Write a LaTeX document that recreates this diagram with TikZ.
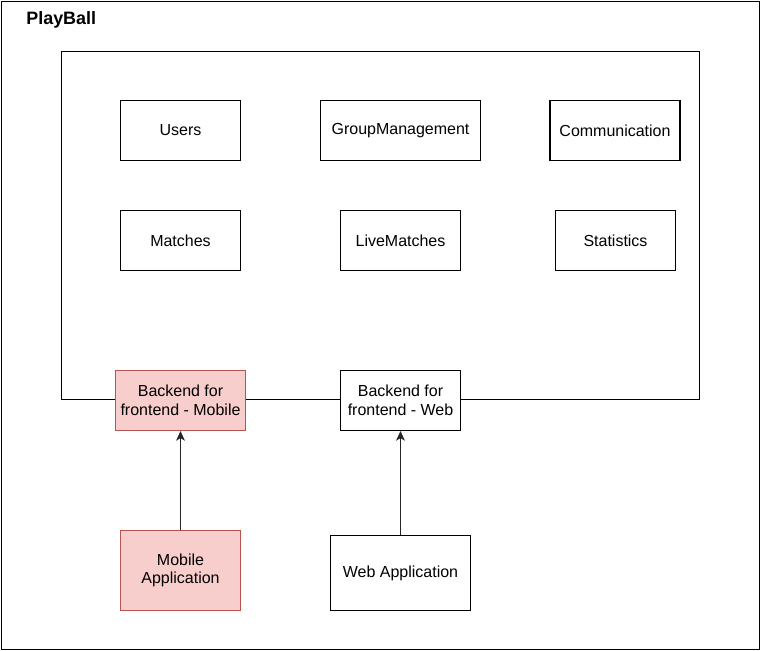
\documentclass[tikz,border=0pt]{standalone}
\usepackage{fontspec}
\setmainfont{Liberation Sans}
\usepackage{xcolor}
\usepackage{tikz}
\usetikzlibrary{
  positioning,
  arrows.meta
}
\definecolor{SoftRed}{HTML}{F8CECC}
\definecolor{DarkRed}{HTML}{B85450}

\begin{document}
\begin{tikzpicture}[
  x=0.02cm, y=-0.02cm,
  >=Stealth,
  box/.style={
    draw=black,
    fill=white,
    line width=0.6pt,
    align=center,
    inner sep=0pt,
    minimum width=2.4cm,
    minimum height=1.2cm,
    font=\fontsize{9.1}{10.6}\selectfont
  },
  bff/.style={
    box,
    draw=DarkRed,
    fill=SoftRed
  },
  frame/.style={draw=black, line width=0.6pt, inner sep=0pt},
  arr/.style={line width=0.6pt, black!85,
    -{Stealth[length=5.5pt, width=5pt, inset=1.5pt]}},
]
  \useasboundingbox (0,0) rectangle (762,651);

  % ========== 外框与标题 ==========
  \node[frame, minimum width=15.18cm, minimum height=12.98cm] (playball) at (380.5,325.5) {};
  \node[anchor=west, inner sep=0pt, font=\fontsize{10.2}{12}\selectfont\bfseries] (title) at (26,20) {PlayBall};

  % ========== 服务容器 ==========
  \node[frame, minimum width=12.78cm, minimum height=6.98cm] (core) at (380.5,225.5) {};

  % ========== 服务（两行三列）==========
  \node[box] (users) at (180.5,130.5) {Users};
  \node[box, minimum width=3.2cm] (groups) at (400.5,130.5) {GroupManagement};
  \node[box, minimum width=2.6cm] (comm) at (615,130.5) {Communication};
  \node[box] (matches) at (180.5,240.5) {Matches};
  \node[box] (live) at (400.5,240.5) {LiveMatches};
  \node[box] (stats) at (615.5,240.5) {Statistics};

  % ========== BFF（压在容器下边线上）==========
  \node[bff, minimum width=2.6cm] (bffmobile) at (180.5,400.5) {Backend for\\frontend - Mobile};
  \node[box] (bffweb) at (400.5,400.5) {Backend for\\frontend - Web};

  % ========== 客户端 ==========
  \node[bff, minimum height=1.6cm] (mobileapp) at (180.5,570.5) {Mobile\\Application};
  \node[box, minimum width=2.8cm, minimum height=1.5cm] (webapp) at (400.5,573) {Web Application};

  % ========== 调用关系 ==========
  \draw[arr] (mobileapp) -- (bffmobile);
  \draw[arr] (webapp) -- (bffweb);

\end{tikzpicture}
\end{document}
